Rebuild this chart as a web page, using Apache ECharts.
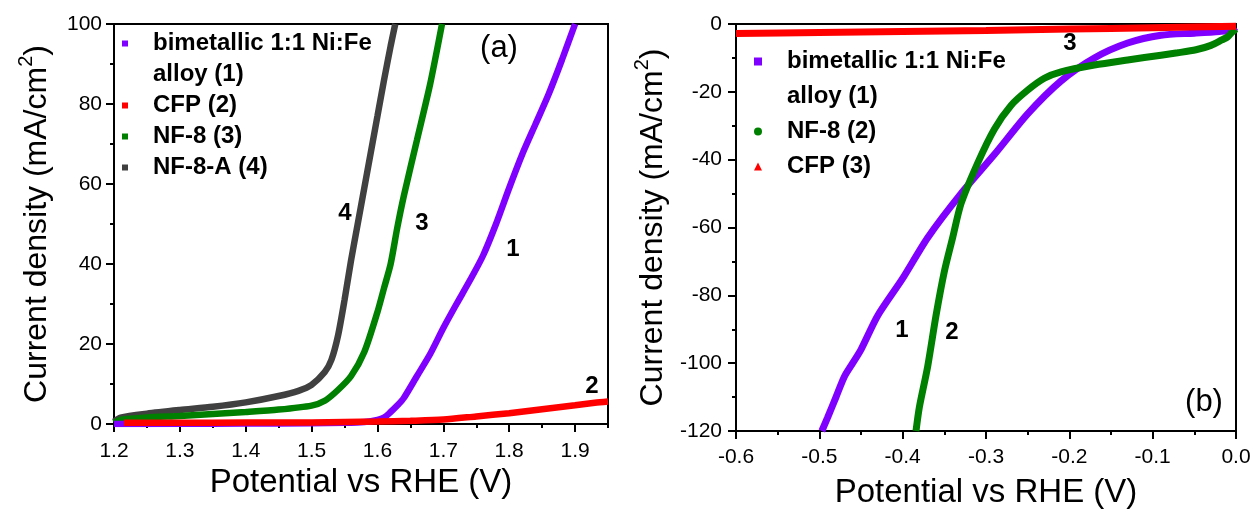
<!DOCTYPE html>
<html><head><meta charset="utf-8">
<script src="https://cdn.jsdelivr.net/npm/echarts@6/dist/echarts.min.js"></script>
<style>html,body{margin:0;padding:0;background:#fff}#c{width:1257px;height:514px}</style>
</head><body><div id="c"></div>
<script>
// ---- Panel (a): OER polarization curves (Potential V vs RHE, mA/cm2)
const oerAlloy = [[1.20,0],[1.30,0.05],[1.40,0.1],[1.50,0.2],[1.55,0.3],[1.58,0.5],[1.60,1.0],[1.61,1.6],[1.62,3.0],[1.63,4.6],[1.64,6.5],[1.66,12],[1.68,17.5],[1.70,24],[1.72,30],[1.74,35.8],[1.76,42],[1.78,50],[1.80,59],[1.82,67.5],[1.84,75],[1.86,82.5],[1.88,91],[1.90,100]];
const oerCFP = [[1.215,0.3],[1.30,0.3],[1.40,0.35],[1.50,0.4],[1.60,0.6],[1.65,0.8],[1.70,1.1],[1.75,1.9],[1.80,2.7],[1.85,3.7],[1.90,4.7],[1.93,5.3],[1.95,5.6]];
const oerNF8 = [[1.20,0.3],[1.21,1.0],[1.25,1.6],[1.30,2.0],[1.35,2.5],[1.40,3.0],[1.45,3.6],[1.50,4.6],[1.52,5.8],[1.54,8.5],[1.56,12],[1.58,18],[1.60,28],[1.61,34],[1.62,40],[1.63,49],[1.64,57],[1.66,71],[1.68,85],[1.698,100]];
const oerNF8A = [[1.20,0.6],[1.21,1.6],[1.25,2.6],[1.30,3.5],[1.35,4.3],[1.40,5.4],[1.45,7.0],[1.48,8.3],[1.50,9.8],[1.52,13],[1.53,16],[1.54,22],[1.55,31],[1.56,41],[1.57,50],[1.58,59],[1.59,68],[1.60,77],[1.61,86],[1.62,94.5],[1.627,100]];
const oerMajorTicks = [1.2,1.3,1.4,1.5,1.6,1.7,1.8,1.9];
const oerMinorTicks = [1.25,1.35,1.45,1.55,1.65,1.75,1.85,1.95];

// ---- Panel (b): HER polarization curves
const herAlloy = [[0,-1.0],[-0.005,-1.8],[-0.02,-2.2],[-0.05,-2.7],[-0.09,-3.3],[-0.13,-5.6],[-0.17,-10],[-0.21,-16.8],[-0.25,-26.5],[-0.29,-38.5],[-0.33,-50],[-0.37,-63],[-0.40,-75],[-0.43,-86],[-0.45,-96],[-0.46,-100],[-0.47,-104],[-0.48,-110],[-0.49,-116],[-0.497,-120]];
const herNF8 = [[0,-1.5],[-0.005,-2.5],[-0.01,-3.8],[-0.017,-4.7],[-0.03,-6.3],[-0.048,-7.6],[-0.07,-8.5],[-0.09,-9.2],[-0.13,-10.6],[-0.17,-12.1],[-0.21,-14.1],[-0.23,-16],[-0.25,-19.5],[-0.27,-24],[-0.29,-31],[-0.31,-41],[-0.33,-53],[-0.34,-63],[-0.35,-73],[-0.36,-86],[-0.37,-101],[-0.38,-113],[-0.384,-120]];
const herCFP = [[-0.6,-2.8],[-0.5,-2.5],[-0.4,-2.2],[-0.3,-1.9],[-0.2,-1.5],[-0.1,-1.1],[0,-0.7]];

const legendNames = {
  aAlloy: '\nbimetallic 1:1 Ni:Fe\nalloy (1)', aCFP: 'CFP (2)', aNF8: 'NF-8 (3)', aNF8A: 'NF-8-A (4)',
  bAlloy: '\nbimetallic 1:1 Ni:Fe\nalloy (1)', bNF8: 'NF-8 (2)', bCFP: 'CFP (3)'
};

const FONT = 'Liberation Sans, Arial, sans-serif';
const C_PURPLE = '#8000ff', C_RED = '#ff0000', C_GREEN = '#008000', C_GRAY = '#404040';

const axisLabelStyle = {fontSize: 21, fontFamily: FONT, color: '#000'};
const axisLineStyle = {show: true, lineStyle: {color: '#000', width: 2}, onZero: false};
const majorTick = {show: true, inside: false, length: 8, lineStyle: {width: 2, color: '#000'}};
const minorTick = {show: true, splitNumber: 2, length: 4, lineStyle: {width: 2, color: '#000'}};
const nameY = {
  fontSize: 32, fontFamily: FONT, color: '#000',
  rich: {sup: {fontSize: 20, fontFamily: FONT, color: '#000', padding: [0, 0, 22, 0]}}
};
const nameX = {fontSize: 33, fontFamily: FONT, color: '#000'};

function line(name, data, color, xi, yi, w) {
  return {type: 'line', name, data, xAxisIndex: xi, yAxisIndex: yi, showSymbol: false,
    smooth: 0.25, lineStyle: {color, width: w}, itemStyle: {color}, animation: false};
}

const legText = {fontSize: 24, fontWeight: 'bold', fontFamily: FONT, color: '#000'};

const option = {
  backgroundColor: '#fff',
  animation: false,
  grid: [
    {left: 114, top: 24, width: 494, height: 400, show: true, borderColor: '#000', borderWidth: 2},
    {left: 736, top: 24, width: 500, height: 409, show: true, borderColor: '#000', borderWidth: 2}
  ],
  xAxis: [
    {type: 'value', gridIndex: 0, position: 'bottom', min: 1.2, max: 1.95, interval: 0.1,
      axisLine: axisLineStyle, splitLine: {show: false},
      axisTick: {...majorTick, customValues: oerMajorTicks},
      axisLabel: {show: true, customValues: oerMajorTicks, margin: 17, ...axisLabelStyle, formatter: v => v.toFixed(1)},
      name: 'Potential vs RHE (V)', nameLocation: 'middle', nameGap: 40, nameTextStyle: nameX},
    {type: 'value', gridIndex: 0, position: 'bottom', min: 1.2, max: 1.95, interval: 0.05,
      axisLine: {show: false, onZero: false}, splitLine: {show: false}, axisLabel: {show: false},
      axisTick: {show: true, inside: false, customValues: oerMinorTicks, length: 4, lineStyle: {width: 2, color: '#000'}}},
    {type: 'value', gridIndex: 1, position: 'bottom', min: -0.6, max: 0, interval: 0.1,
      axisLine: axisLineStyle, splitLine: {show: false},
      axisTick: majorTick, minorTick: minorTick,
      axisLabel: {show: true, margin: 16, ...axisLabelStyle, formatter: v => v.toFixed(1)},
      name: 'Potential vs RHE (V)', nameLocation: 'middle', nameGap: 45, nameTextStyle: nameX}
  ],
  yAxis: [
    {type: 'value', gridIndex: 0, min: 0, max: 100, interval: 20,
      axisLine: axisLineStyle, splitLine: {show: false},
      axisTick: majorTick, minorTick: minorTick,
      axisLabel: {show: true, margin: 12, ...axisLabelStyle},
      name: 'Current density (mA/cm{sup|2})', nameLocation: 'middle', nameGap: 56, nameTextStyle: nameY},
    {type: 'value', gridIndex: 1, min: -120, max: 0, interval: 20,
      axisLine: axisLineStyle, splitLine: {show: false},
      axisTick: majorTick, minorTick: minorTick,
      axisLabel: {show: true, margin: 14, ...axisLabelStyle},
      name: 'Current density (mA/cm{sup|2})', nameLocation: 'middle', nameGap: 62, nameTextStyle: nameY}
  ],
  legend: [
    {orient: 'vertical', left: 122, top: -3, padding: 0, itemGap: 0, itemWidth: 6, itemHeight: 6,
      formatter: n => legendNames[n], selectedMode: false,
      textStyle: {...legText, lineHeight: 31, padding: [0, 0, 0, 20]},
      data: [
        {name: 'aAlloy', icon: 'rect'}, {name: 'aCFP', icon: 'rect'},
        {name: 'aNF8', icon: 'rect'}, {name: 'aNF8A', icon: 'rect'}
      ]},
    {orient: 'vertical', left: 754, top: 9, padding: 0, itemGap: 0, itemWidth: 8, itemHeight: 8,
      formatter: n => legendNames[n], selectedMode: false,
      textStyle: {...legText, lineHeight: 35, padding: [0, 0, 0, 20]},
      data: [
        {name: 'bAlloy', icon: 'rect'}, {name: 'bNF8', icon: 'circle'}, {name: 'bCFP', icon: 'triangle'}
      ]}
  ],
  series: [
    line('aNF8A', oerNF8A, C_GRAY, 0, 0, 6.5),
    line('aNF8', oerNF8, C_GREEN, 0, 0, 6.5),
    line('aAlloy', oerAlloy, C_PURPLE, 0, 0, 6.5),
    line('aCFP', oerCFP, C_RED, 0, 0, 6.5),
    line('bAlloy', herAlloy, C_PURPLE, 2, 1, 7),
    line('bNF8', herNF8, C_GREEN, 2, 1, 7),
    line('bCFP', herCFP, C_RED, 2, 1, 7)
  ],
  graphic: [
    {type: 'text', x: 499, y: 48, style: {text: '(a)', font: '31px ' + FONT, fill: '#000', align: 'center', verticalAlign: 'middle'}},
    {type: 'text', x: 345, y: 213, style: {text: '4', font: 'bold 24px ' + FONT, fill: '#000', align: 'center', verticalAlign: 'middle'}},
    {type: 'text', x: 422, y: 223, style: {text: '3', font: 'bold 24px ' + FONT, fill: '#000', align: 'center', verticalAlign: 'middle'}},
    {type: 'text', x: 513, y: 249, style: {text: '1', font: 'bold 24px ' + FONT, fill: '#000', align: 'center', verticalAlign: 'middle'}},
    {type: 'text', x: 592, y: 386, style: {text: '2', font: 'bold 24px ' + FONT, fill: '#000', align: 'center', verticalAlign: 'middle'}},
    {type: 'text', x: 1204, y: 402, style: {text: '(b)', font: '31px ' + FONT, fill: '#000', align: 'center', verticalAlign: 'middle'}},
    {type: 'text', x: 1070, y: 43, style: {text: '3', font: 'bold 24px ' + FONT, fill: '#000', align: 'center', verticalAlign: 'middle'}},
    {type: 'text', x: 902, y: 330, style: {text: '1', font: 'bold 24px ' + FONT, fill: '#000', align: 'center', verticalAlign: 'middle'}},
    {type: 'text', x: 952, y: 332, style: {text: '2', font: 'bold 24px ' + FONT, fill: '#000', align: 'center', verticalAlign: 'middle'}}
  ]
};
const chart = echarts.init(document.getElementById('c'), null, {renderer: 'canvas'});
chart.setOption(option);
</script></body></html>
